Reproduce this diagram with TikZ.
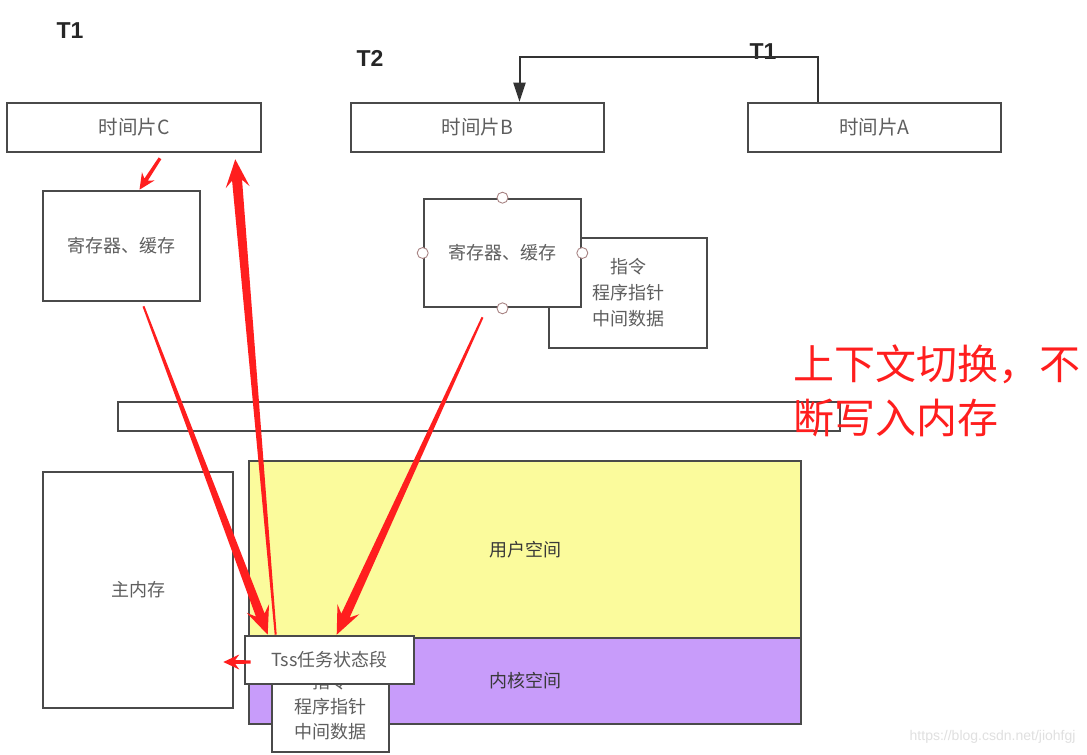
\documentclass[tikz,border=0pt]{standalone}
\usepackage{fontspec}
\setmainfont{Liberation Sans}
\newfontfamily\cjk{Noto Sans CJK SC}
\usetikzlibrary{calc,arrows.meta}
\definecolor{boxgray}{HTML}{4A4A4A}
\definecolor{txtgray}{HTML}{5E5E5E}
\definecolor{arrowred}{HTML}{FF1E1E}
\definecolor{userfill}{HTML}{FBFB9C}
\definecolor{kernelfill}{HTML}{C89CFA}
\definecolor{dotline}{HTML}{A88484}
% from, to, start half width, end half width, head length, neck length, head half width
\newcommand\redarrow[7]{%
	\path (#1) coordinate (afrom) (#2) coordinate (atip);
	\path ($(atip)!#5!(afrom)$) coordinate (aback) ($(atip)!#6!(afrom)$) coordinate (aneck);
	\fill[arrowred] ($(afrom)!#3!90:(aneck)$) -- ($(aneck)!#4!-90:(afrom)$) -- ($(aback)!#7!-90:(afrom)$) -- (atip)
		-- ($(aback)!#7!90:(afrom)$) -- ($(aneck)!#4!90:(afrom)$) -- ($(afrom)!#3!-90:(aneck)$) -- cycle;}
\begin{document}
\begin{tikzpicture}[x=1pt, y=-1pt,
	box/.style={draw=boxgray, line width=2.6pt, fill=white, text=txtgray, inner sep=0pt, align=center, font=\cjk\fontsize{18}{26}\selectfont},
	tlabel/.style={font=\bfseries\fontsize{23}{23}\selectfont, text=black!85},
	dot/.style={circle, draw=dotline, fill=white, line width=0.9pt, minimum size=11pt, inner sep=0pt}]
	\useasboundingbox (0,0) rectangle (1087,755);
	\fill[white] (0,0) rectangle (1087,755);

	\node [tlabel] (t1c) at (70,31) {T1};
	\node [tlabel] (t2b) at (370,58) {T2};
	\node [tlabel] (t1a) at (763,52) {T1};

	\node [box, minimum width=254, minimum height=49, font=\cjk\fontsize{19.5}{19.5}\selectfont] (slotC) at (134,127.5) {时间片C};
	\node [box, minimum width=253, minimum height=49, font=\cjk\fontsize{19.5}{19.5}\selectfont] (slotB) at (477.5,127.5) {时间片B};
	\node [box, minimum width=253, minimum height=49, font=\cjk\fontsize{19.5}{19.5}\selectfont] (slotA) at (874.5,127.5) {时间片A};
	\draw[black!80, line width=2pt, -{Triangle[length=19pt,width=12pt]}] ([xshift=-57pt]slotA.north) |- ([xshift=42pt,yshift=45pt]slotB.north) -- ([xshift=42pt]slotB.north);

	\node [box, minimum width=157, minimum height=110] (regC) at (121.5,246) {寄存器、缓存};
	\node [box, minimum width=158, minimum height=110] (ctxB) at (628,293) {指令\\程序指针\\中间数据};
	\node [box, minimum width=157, minimum height=108] (regB) at (502.5,253) {寄存器、缓存};
	\node [dot] (dn) at (regB.north) {};
	\node [dot] (dw) at (regB.west) {};
	\node [dot] (de) at (regB.east) {};
	\node [dot] (ds) at (regB.south) {};

	\node [box, minimum width=722, minimum height=29] (bar) at (479,416.5) {};
	\node [box, minimum width=190, minimum height=236] (mem) at (138,590) {主内存};
	\node [box, fill=userfill, text=black!78, minimum width=552, minimum height=177] (user) at (525,549.5) {用户空间};
	\node [box, fill=kernelfill, text=black!78, minimum width=552, minimum height=86] (kernel) at (525,681) {内核空间};
	\node [box, minimum width=117, minimum height=112] (ctxK) at (330.5,696) {};
	\node [text=txtgray, align=center, font=\cjk\fontsize{18}{25}\selectfont] (ctxKtext) at (330.5,707) {指令\\程序指针\\中间数据};
	\node [box, minimum width=169, minimum height=48] (tss) at (329.5,660) {Tss任务状态段};

	\coordinate (p1) at ([xshift=22pt,yshift=-4pt]regC.south);
	\coordinate (q1) at ([xshift=24pt]tss.north west);
	\coordinate (p2) at ([xshift=32pt]tss.north west);
	\coordinate (q2) at ([xshift=-27pt,yshift=-6pt]slotC.south east);
	\coordinate (p3) at ([xshift=-20pt,yshift=-9pt]regB.south);
	\coordinate (q3) at ([xshift=93pt]tss.north west);
	\coordinate (p4) at ([xshift=26pt,yshift=-5pt]slotC.south);
	\coordinate (q4) at ([xshift=18pt]regC.north);
	\coordinate (p5) at ([xshift=7pt,yshift=-2pt]tss.west);
	\coordinate (q5) at ([xshift=-11pt,yshift=-72pt]mem.east);
	\redarrow{p1}{q1}{1pt}{4.6pt}{28pt}{21pt}{12pt}
	\redarrow{p2}{q2}{1pt}{5pt}{28pt}{21pt}{12pt}
	\redarrow{p3}{q3}{1pt}{4.6pt}{28pt}{21pt}{12pt}
	\redarrow{p4}{q4}{1.6pt}{2pt}{16pt}{12pt}{7.5pt}
	\redarrow{p5}{q5}{1.6pt}{2pt}{16pt}{12pt}{7.5pt}

	\node [anchor=west, text=arrowred, align=left, font=\cjk\fontsize{41}{54}\selectfont] (note) at (790,391) {上下文切换，不\\断写入内存};
	\node [anchor=east, text=black!12, font=\fontsize{14}{14}\selectfont] (mark) at (1079,737) {https://blog.csdn.net/jiohfgj};
\end{tikzpicture}
\end{document}
